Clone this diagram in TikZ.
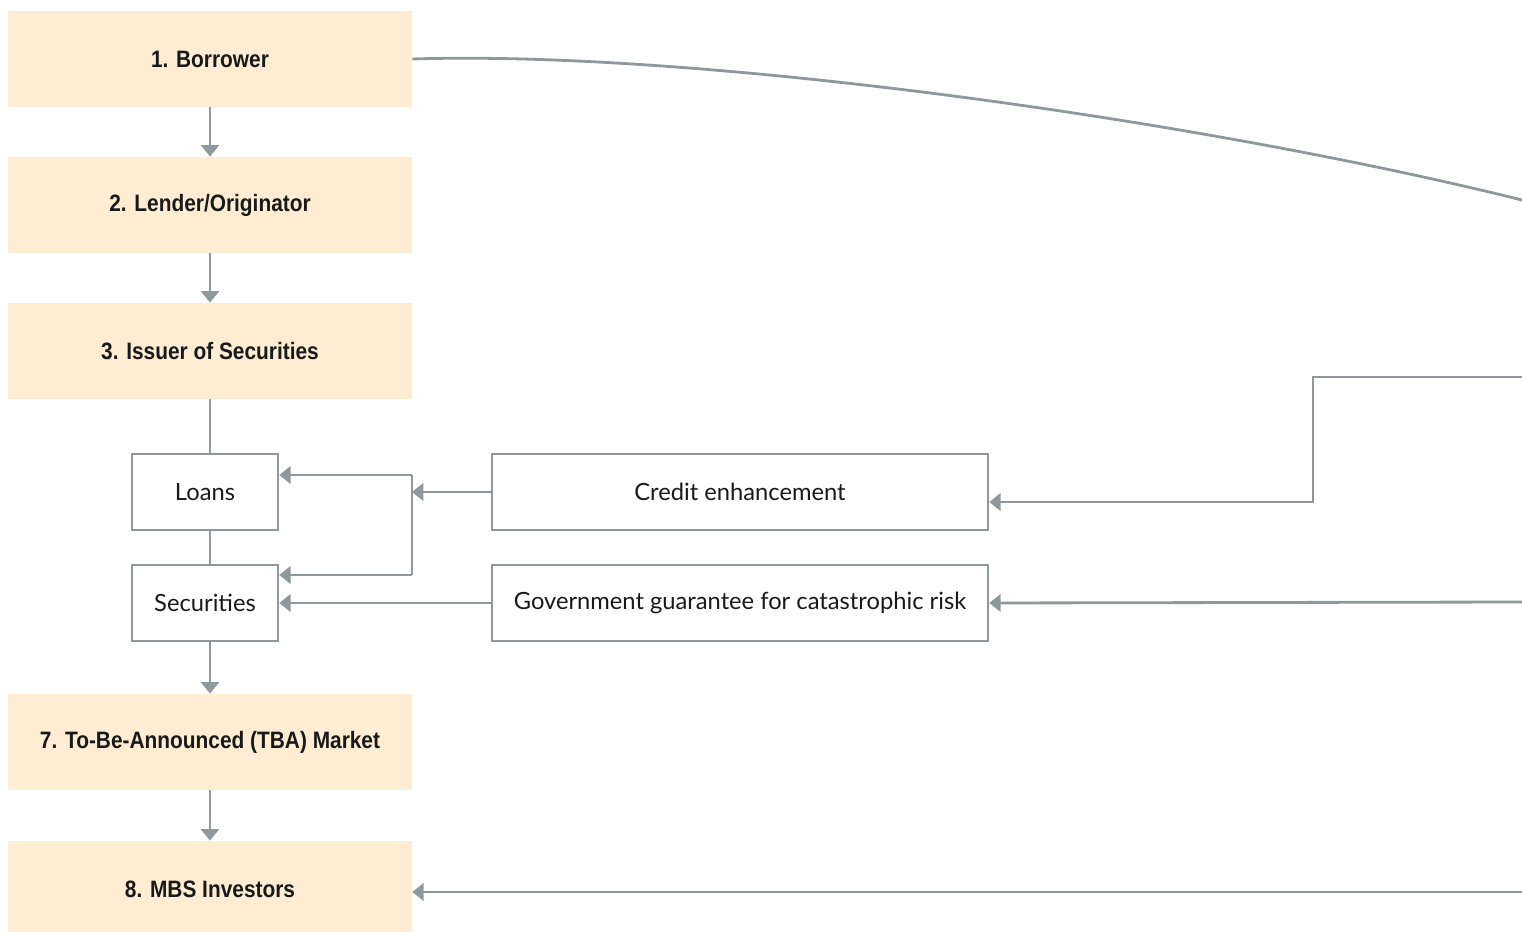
\documentclass[tikz,border=0pt]{standalone}
\usepackage{fontspec}
\setmainfont{Lato}
\newfontfamily\headfont[FakeStretch=0.88]{Liberation Sans}
\usetikzlibrary{arrows.meta, positioning}
\definecolor{peach}{RGB}{255,237,211}
\definecolor{linegrey}{RGB}{143,152,155}
\definecolor{ink}{RGB}{25,25,25}

\begin{document}
\begin{tikzpicture}[x=0.02cm, y=-0.02cm,
    stage/.style={fill=peach, inner sep=0pt, minimum width=8.08cm, minimum height=1.92cm,
      text=ink, font=\headfont\bfseries\fontsize{13.5pt}{16pt}\selectfont},
    item/.style={draw=linegrey, line width=1.5pt, inner sep=0pt, minimum width=2.92cm,
      minimum height=1.52cm, text=ink, font=\fontsize{13.5pt}{16pt}\selectfont},
    wide/.style={item, minimum width=9.92cm},
    link/.style={draw=linegrey, line width=1.6pt},
    flow/.style={link, -{Triangle[width=10pt, length=6.5pt]}}]
    \path[use as bounding box, clip] (0,0) rectangle (1522,932);

    % main chain
    \node[stage] (borrower) at (210,59) {1. Borrower};
    \node[stage] (lender) at (210,205) {2. Lender/Originator};
    \node[stage] (issuer) at (210,351) {3. Issuer of Securities};
    \node[item] (loans) at (205,492) {Loans};
    \node[item] (securities) at (205,603) {Securities};
    \node[stage] (tba) at (210,742) {7. To-Be-Announced (TBA) Market};
    \node[stage] (investors) at (210,889) {8. MBS Investors};

    % side boxes
    \node[wide] (credit) at (740,492) {Credit enhancement};
    \node[wide] (guarantee) at (740,603) {Government guarantee for catastrophic risk};

    % free ends and bends
    \coordinate (curveend) at (1522,200);
    \coordinate (creditin) at (1522,377);
    \coordinate (creditknee) at (1313,377);
    \coordinate (guaranteein) at (1522,602);
    \coordinate (investorsin) at (1522,892);
    \coordinate (split) at (412,492);
    \coordinate (splittop) at (412,475);
    \coordinate (splitbot) at (412,575);

    \draw[flow] (borrower) -- (lender);
    \draw[flow] (lender) -- (issuer);
    \draw[link] (issuer.south) -- (issuer.south |- loans.north);
    \draw[link] (issuer.south |- loans.south) -- (issuer.south |- securities.north);
    \draw[flow] (issuer.south |- securities.south) -- (tba.north);
    \draw[flow] (tba) -- (investors);

    \draw[flow] (credit.west) -- (split);
    \draw[link] (splittop) -- (splitbot);
    \draw[flow] (splittop) -- (splittop -| loans.east);
    \draw[flow] (splitbot) -- (splitbot -| securities.east);
    \draw[flow] (guarantee.west) -- (guarantee.west -| securities.east);

    \draw[flow] (creditin) -- (creditknee) |- (credit.east |- 0,502);
    \draw[flow] (guaranteein) -- (guarantee.east);
    \draw[flow] (investorsin) -- (investors.east |- 0,892);
    \draw[link] (borrower.east) .. controls (700,50) and (1200,120) .. (curveend);
\end{tikzpicture}
\end{document}
